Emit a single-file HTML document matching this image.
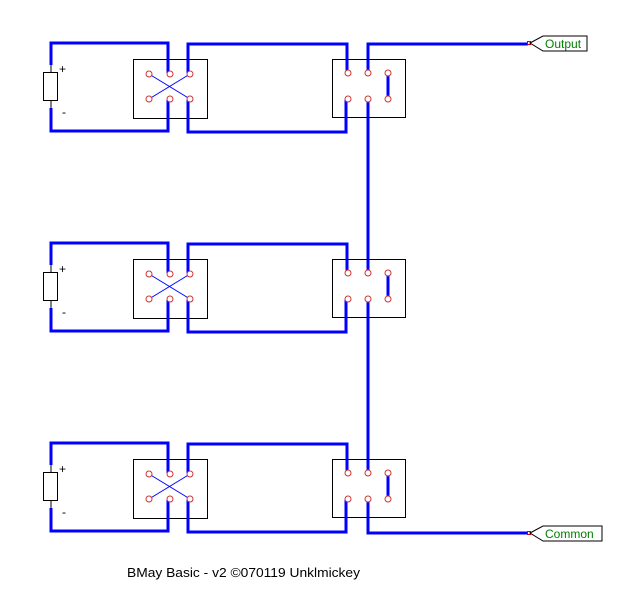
<!DOCTYPE html>
<html><head><meta charset="utf-8"><style>
html,body{margin:0;padding:0;background:#fff;width:638px;height:608px;overflow:hidden}
svg{display:block}
</style></head><body>
<svg width="638" height="608" viewBox="0 0 638 608" xmlns="http://www.w3.org/2000/svg" font-family="Liberation Sans, sans-serif">
<defs>
<g id="blk">
  <line x1="51" y1="65" x2="51" y2="72" stroke="#000" stroke-width="1"/>
  <line x1="51" y1="100" x2="51" y2="108" stroke="#000" stroke-width="1"/>
  <rect x="43.5" y="72.5" width="14" height="28" fill="#fff" stroke="#000" stroke-width="1"/>
  <text x="59" y="73" font-size="12" fill="#000">+</text>
  <text x="62" y="116" font-size="12" fill="#000">-</text>
  <rect x="133.5" y="59.5" width="74" height="59" fill="none" stroke="#000" stroke-width="1"/>
  <rect x="332.5" y="59.5" width="73" height="58" fill="none" stroke="#000" stroke-width="1"/>
  <g fill="none" stroke="#0000ff" stroke-width="3">
    <polyline points="51,65 51,43 168,43 168,73"/>
    <polyline points="51,108 51,131 168,131 168,100"/>
    <polyline points="188,73 188,44 347,44 347,73"/>
    <polyline points="188,100 188,132 346,132 346,100"/>
    <line x1="388" y1="74" x2="388" y2="99"/>
  </g>
  <g stroke="#0000ff" stroke-width="1">
    <line x1="149" y1="74" x2="190" y2="99"/>
    <line x1="149" y1="99" x2="190" y2="74"/>
  </g>
  <g fill="#fff" stroke="#cc3333" stroke-width="1">
    <circle cx="149" cy="74" r="3"/><circle cx="170" cy="74" r="3"/><circle cx="190" cy="74" r="3"/>
    <circle cx="149" cy="99" r="3"/><circle cx="170" cy="99" r="3"/><circle cx="190" cy="99" r="3"/>
    <circle cx="348" cy="73" r="3"/><circle cx="368" cy="73" r="3"/><circle cx="388" cy="73" r="3"/>
    <circle cx="348" cy="99" r="3"/><circle cx="368" cy="99" r="3"/><circle cx="388" cy="99" r="3"/>
  </g>
</g>
</defs>
<g fill="none" stroke="#0000ff" stroke-width="3">
  <polyline points="368,73 368,44 528,44"/>
  <line x1="368" y1="100" x2="368" y2="273"/>
  <line x1="368" y1="300" x2="368" y2="473"/>
  <polyline points="368,500 368,533 528,533"/>
</g>
<use href="#blk"/>
<use href="#blk" transform="translate(0,200)"/>
<use href="#blk" transform="translate(0,400)"/>
<rect x="527.5" y="41.5" width="3" height="3" fill="none" stroke="#cc0000"/>
<rect x="527.5" y="531.5" width="3" height="3" fill="none" stroke="#cc0000"/>
<polygon points="530,43 543,36 587,36 587,51 543,51" fill="#fff" stroke="#000" stroke-width="1"/>
<text x="545" y="48" font-size="12" fill="#008000">Output</text>
<polygon points="530,533 543,526 602,526 602,541 543,541" fill="#fff" stroke="#000" stroke-width="1"/>
<text x="545" y="538" font-size="12" fill="#008000">Common</text>
<text x="127" y="577" font-size="13" fill="#000" textLength="233" lengthAdjust="spacingAndGlyphs">BMay Basic - v2 ©070119 Unklmickey</text>
</svg>
</body></html>
